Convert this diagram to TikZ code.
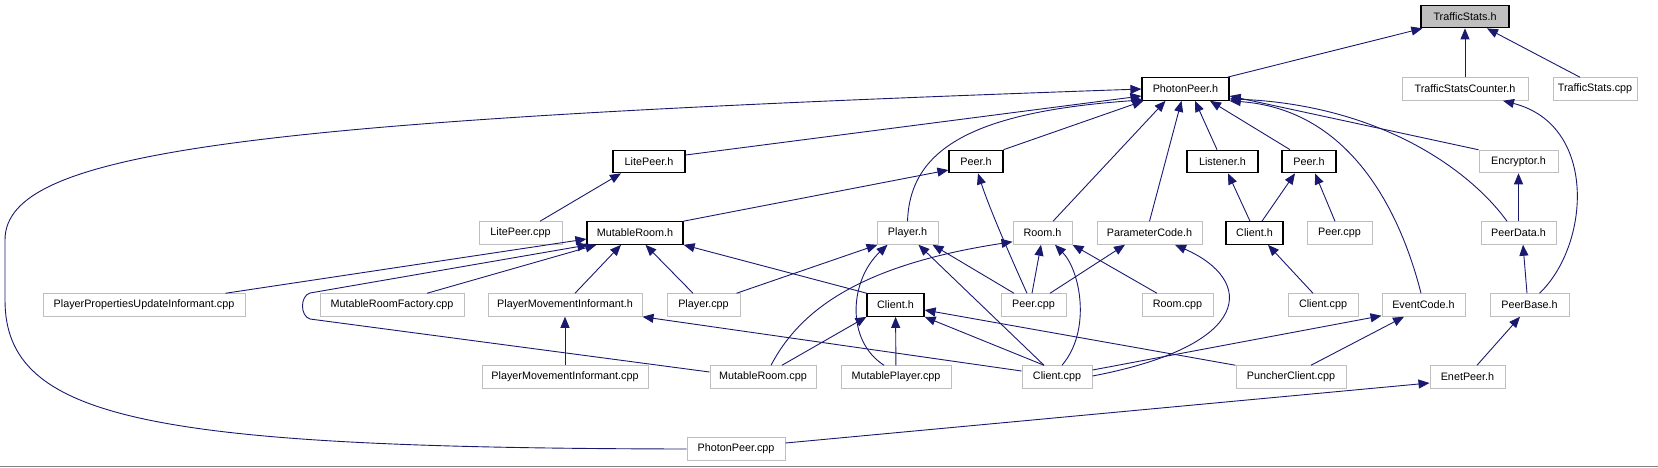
\documentclass[tikz,border=0pt]{standalone}
\usepackage{fontspec}
\setmainfont{Liberation Sans}
\usetikzlibrary{arrows.meta}

\definecolor{edgeblue}{HTML}{191970}
\definecolor{boxgrey}{HTML}{BFBFBF}

\begin{document}
\begin{tikzpicture}[x = 1pt, y = -1pt,
    file/.style = {draw = boxgrey, line width = 1pt, inner sep = 0pt,
                   minimum height = 22.5pt, font = \fontsize{10.8}{12}\selectfont},
    hdr/.style = {file, draw = black, line width = 1.2pt},
    dep/.style = {draw = edgeblue, line width = .9pt,
                  -{Triangle[length = 11pt, width = 9pt]}}]
      \useasboundingbox (0,0) rectangle (1658,467);
      % files, row by row
      \node [hdr, fill = boxgrey, minimum width = 88pt] (TS) at (1465,16.5) {TrafficStats.h};
      \node [hdr, minimum width = 87pt] (PPh) at (1185.5,89) {PhotonPeer.h};
      \node [file, minimum width = 126pt] (TSC) at (1465,89) {TrafficStatsCounter.h};
      \node [file, minimum width = 84pt] (TScpp) at (1595,89) {TrafficStats.cpp};
      \node [hdr, minimum width = 72pt] (LPh) at (649,161.5) {LitePeer.h};
      \node [hdr, minimum width = 54pt] (PeerL) at (976,161.5) {Peer.h};
      \node [hdr, minimum width = 71pt] (Lh) at (1222.5,161.5) {Listener.h};
      \node [hdr, minimum width = 54pt] (PeerR) at (1309,161.5) {Peer.h};
      \node [file, minimum width = 79pt] (Enc) at (1518.5,161.5) {Encryptor.h};
      \node [file, minimum width = 83pt] (LPcpp) at (520.5,233) {LitePeer.cpp};
      \node [hdr, minimum width = 96pt] (MRh) at (635,233) {MutableRoom.h};
      \node [file, minimum width = 61pt] (Plh) at (907.5,233) {Player.h};
      \node [file, minimum width = 59pt] (Rh) at (1042.5,233) {Room.h};
      \node [file, minimum width = 105pt] (PCh) at (1149.5,233) {ParameterCode.h};
      \node [hdr, minimum width = 57pt] (ClR) at (1254.5,233) {Client.h};
      \node [file, minimum width = 65pt] (PcppR) at (1339.5,233) {Peer.cpp};
      \node [file, minimum width = 75pt] (PDh) at (1518.5,233) {PeerData.h};
      \node [file, minimum width = 202pt] (PPUI) at (144,305) {PlayerPropertiesUpdateInformant.cpp};
      \node [file, minimum width = 144pt] (MRF) at (392,305) {MutableRoomFactory.cpp};
      \node [file, minimum width = 154pt] (PMIh) at (565,305) {PlayerMovementInformant.h};
      \node [file, minimum width = 73pt] (Plcpp) at (703.5,305) {Player.cpp};
      \node [hdr, minimum width = 57pt] (ClL) at (895.5,305) {Client.h};
      \node [file, minimum width = 65pt] (PcppL) at (1033.5,305) {Peer.cpp};
      \node [file, minimum width = 71pt] (Rcpp) at (1177.5,305) {Room.cpp};
      \node [file, minimum width = 70pt] (CcppR) at (1323,305) {Client.cpp};
      \node [file, minimum width = 83pt] (ECh) at (1423.5,305) {EventCode.h};
      \node [file, minimum width = 79pt] (PBh) at (1529.5,305) {PeerBase.h};
      \node [file, minimum width = 166pt] (PMIcpp) at (565,377) {PlayerMovementInformant.cpp};
      \node [file, minimum width = 106pt] (MRcpp) at (763,377) {MutableRoom.cpp};
      \node [file, minimum width = 110pt] (MPcpp) at (896,377) {MutablePlayer.cpp};
      \node [file, minimum width = 70pt] (CcppL) at (1057,377) {Client.cpp};
      \node [file, minimum width = 110pt] (PCcpp) at (1291,377) {PuncherClient.cpp};
      \node [file, minimum width = 75pt] (EPh) at (1467.5,377) {EnetPeer.h};
      \node [file, minimum width = 98pt] (PPcpp) at (736,449) {PhotonPeer.cpp};
      % into TrafficStats.h
      \draw [dep] ([xshift = -2pt] PPh.north east) -- ([xshift = 2pt] TS.south west);
      \draw [dep] (TSC) -- (TS);
      \draw [dep] ([xshift = -15pt] TScpp.north) -- ([xshift = 22pt] TS.south);
      \draw [dep] ([xshift = 10pt] PBh.north) .. controls (1590,245) and (1598,125) .. ([xshift = 38pt] TSC.south);
      % into PhotonPeer.h
      \draw [dep] (PPcpp.west) .. controls (150,448) and (5,420) .. (5,300) -- (5,240)
        .. controls (5,150) and (250,120) .. (PPh.west);
      \draw [dep] ([yshift = 6.5pt] LPh.east) -- ([yshift = -7pt] PPh.west);
      \draw [dep] (PeerL.north east) -- ([xshift = 2pt] PPh.south west);
      \draw [dep] (Plh.north) .. controls (910,150) and (970,112) .. ([xshift = 2pt, yshift = 1pt] PPh.south west);
      \draw [dep] ([xshift = 10.5pt] Rh.north) -- ([xshift = -20pt] PPh.south);
      \draw [dep] (PCh.north) -- ([xshift = -4pt] PPh.south);
      \draw [dep] ([xshift = -5.5pt] Lh.north) -- ([xshift = 9.5pt] PPh.south);
      \draw [dep] ([xshift = -19pt] PeerR.north) -- ([xshift = 24.5pt] PPh.south);
      \draw [dep] ([xshift = -2.5pt] ECh.north) .. controls (1405,230) and (1360,110) .. (PPh.south east);
      \draw [dep] ([xshift = -11.5pt] PDh.north) .. controls (1470,170) and (1380,105) .. ([yshift = 2pt] PPh.south east);
      \draw [dep] (Enc.north west) -- ([yshift = -7pt] PPh.east);
      % second and third rows
      \draw [dep] ([xshift = 19.5pt] LPcpp.north) -- ([xshift = -28pt] LPh.south);
      \draw [dep] (MRh.north east) -- ([yshift = -8.5pt] PeerL.west);
      \draw [dep] ([xshift = -6.5pt] PcppL.north) .. controls (1012,260) and (990,210) .. ([xshift = 2pt] PeerL.south);
      \draw [dep] ([xshift = -4.5pt] ClR.north) -- ([xshift = 5.5pt] Lh.south);
      \draw [dep] ([xshift = 7.5pt] ClR.north) -- ([xshift = -14pt] PeerR.south);
      \draw [dep] ([xshift = -4.5pt] PcppR.north) -- ([xshift = 6pt] PeerR.south);
      \draw [dep] (PDh) -- (Enc);
      % into MutableRoom.h
      \draw [dep] ([xshift = -20pt] PPUI.north east) -- ([yshift = -6pt] MRh.west);
      \draw [dep] ([yshift = 5pt] MRcpp.west) -- (310,319) .. controls (300,316) and (300,296) .. (310,293)
        -- ([xshift = 2pt] MRh.south west);
      \draw [dep] ([xshift = 35pt] MRF.north) -- ([xshift = 10pt] MRh.south west);
      \draw [dep] ([xshift = 10pt] PMIh.north) -- ([xshift = -14pt] MRh.south);
      \draw [dep] ([xshift = -10.5pt] Plcpp.north) -- ([xshift = 10.5pt] MRh.south);
      \draw [dep] (ClL.north west) -- (MRh.south east);
      % into Player.h
      \draw [dep] ([xshift = -4pt] Plcpp.north east) -- ([xshift = 1pt] Plh.south west);
      \draw [dep] ([xshift = -12pt] MPcpp.north) .. controls (845,340) and (850,280) .. ([xshift = -20pt] Plh.south);
      \draw [dep] ([xshift = -13pt] CcppL.north) -- ([xshift = 11pt] Plh.south);
      \draw [dep] ([xshift = -19.5pt] PcppL.north) -- ([xshift = 25pt] Plh.south);
      % into Room.h
      \draw [dep] ([xshift = 8pt] MRcpp.north) .. controls (800,310) and (860,265) .. ([yshift = 3pt] Rh.south west);
      \draw [dep] ([xshift = -1.5pt] PcppL.north) -- ([xshift = -1.5pt] Rh.south);
      \draw [dep] ([xshift = 5pt] CcppL.north) .. controls (1092,330) and (1080,270) .. ([xshift = 12.5pt] Rh.south);
      \draw [dep] ([xshift = -20.5pt] Rcpp.north) -- (Rh.south east);
      % into ParameterCode.h
      \draw [dep] ([xshift = 16.5pt] PcppL.north) -- ([xshift = -24.5pt] PCh.south);
      \draw [dep] ([yshift = 1pt] CcppL.east) .. controls (1255,345) and (1255,280) .. ([xshift = 25.5pt] PCh.south);
      % into Client.h
      \draw [dep] ([xshift = -10pt] CcppR.north) -- ([xshift = 13.5pt] ClR.south);
      \draw [dep] ([xshift = 19pt] MRcpp.north) -- (ClL.south west);
      \draw [dep] (MPcpp) -- (ClL);
      \draw [dep] ([xshift = -13pt] CcppL.north) -- (ClL.south east);
      \draw [dep] (PCcpp.north west) -- ([yshift = -5pt] ClL.east);
      % into PlayerMovementInformant.h
      \draw [dep] (PMIcpp) -- (PMIh);
      \draw [dep] ([yshift = 6pt] CcppL.west) -- (PMIh.south east);
      % into EventCode.h
      \draw [dep] ([yshift = 7pt] CcppL.east) -- ([yshift = 1pt] ECh.south west);
      \draw [dep] ([xshift = 20pt] PCcpp.north) -- ([xshift = -19.5pt] ECh.south);
      % peer base chain
      \draw [dep] ([xshift = -2.5pt] PBh.north) -- ([xshift = 4.5pt] PDh.south);
      \draw [dep] ([xshift = 9.5pt] EPh.north) -- ([xshift = -9.5pt] PBh.south);
      \draw [dep] ([yshift = 6pt] PPcpp.east) -- ([yshift = -6pt] EPh.west);
      \draw [gray] (0,466) -- (1658,466);
    \end{tikzpicture}
\end{document}
